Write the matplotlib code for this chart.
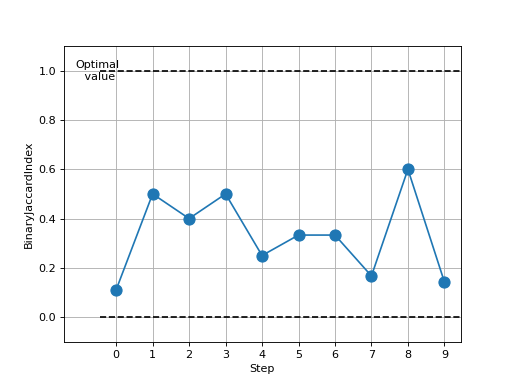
import matplotlib
matplotlib.use("Agg")
import matplotlib.pyplot as plt

steps = [0, 1, 2, 3, 4, 5, 6, 7, 8, 9]
jaccard = [0.111, 0.5, 0.4, 0.5, 0.25, 0.333, 0.333, 0.167, 0.6, 0.143]
optimal = 1.0
worst = 0.0

fig = plt.figure(figsize=(6.4, 4.8), dpi=80)
ax = fig.add_subplot(111)
ax.plot(steps, jaccard, "o-", color="#1f77b4", markersize=10)
ax.hlines([optimal, worst], -0.45, 9.45, colors="black", linestyles="dashed")
ax.text(-0.5, optimal, "Optimal\n value", ha="center", va="center")
ax.set_xlim(-1.43, 9.45)
ax.set_ylim(-0.1, 1.1)
ax.set_xticks(steps)
ax.grid(True)
ax.set_xlabel("Step")
ax.set_ylabel("BinaryJaccardIndex")
fig.savefig("out.png")
